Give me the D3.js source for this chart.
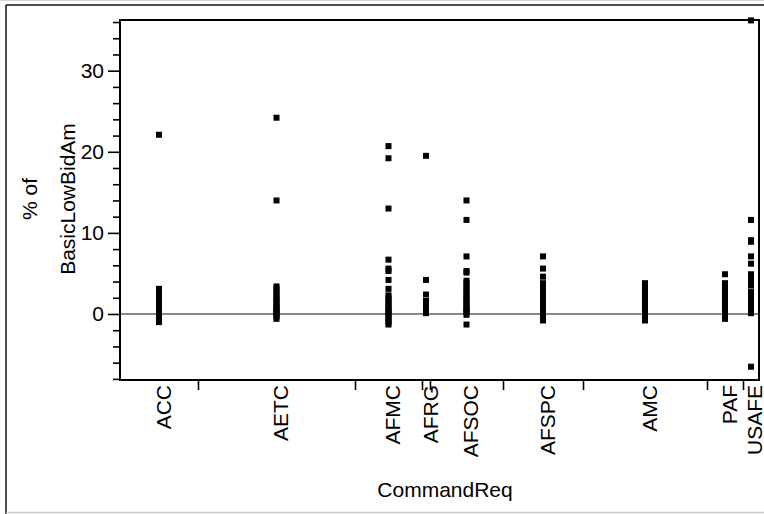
<!DOCTYPE html>
<html>
<head>
<meta charset="utf-8">
<script src="https://cdn.jsdelivr.net/npm/d3@7"></script>
<style>
  html, body { margin: 0; padding: 0; background: #fff; }
  svg { display: block; }
  text { font-family: "Liberation Sans", Arial, sans-serif; fill: #000; }
</style>
</head>
<body>
<svg id="chart" width="764" height="514"></svg>
<script>
// ---------------- data ----------------
const categories = ["ACC", "AETC", "AFMC", "AFRG", "AFSOC", "AFSPC", "AMC", "PAF", "USAFE"];
const categoryCounts = [78, 157, 67, 8, 73, 80, 124, 36, 16];

const accValues   = [22.1, 3.1, 2.8, 2.5, 2.2, 1.9, 1.6, 1.3, 1.0, 0.8, 0.6, 0.4, 0.2, 0.0, -0.2, -0.4, -0.6, -0.8, -1.0];
const aetcValues  = [24.2, 14.0, 3.4, 3.1, 2.7, 2.4, 2.0, 1.8, 1.5, 1.2, 0.9, 0.7, 0.5, 0.3, 0.1, -0.1, -0.3, -0.6];
const afmcValues  = [20.7, 19.2, 13.0, 6.7, 5.6, 5.3, 4.2, 3.1, 2.3, 2.0, 1.7, 1.4, 1.1, 0.8, 0.5, 0.3, 0.1, -0.2, -0.5, -0.8, -1.0, -1.3];
const afrgValues  = [19.5, 4.2, 2.4, 1.6, 1.3, 0.8, 0.5, 0.1];
const afsocValues = [14.0, 11.6, 7.1, 5.3, 5.1, 4.1, 3.8, 3.4, 3.1, 2.7, 2.4, 2.1, 1.8, 1.5, 1.2, 0.9, 0.6, 0.4, 0.2, -0.1, -1.3];
const afspcValues = [7.1, 5.6, 4.6, 3.8, 3.5, 3.1, 2.8, 2.4, 2.1, 1.8, 1.5, 1.2, 0.9, 0.6, 0.3, 0.1, -0.2, -0.5, -0.8];
const amcValues   = [3.8, 3.6, 3.3, 2.9, 2.6, 2.2, 1.9, 1.6, 1.3, 1.0, 0.7, 0.4, 0.2, 0.0, -0.3, -0.5, -0.8];
const pafValues   = [4.9, 3.8, 3.5, 3.1, 2.7, 2.4, 2.0, 1.7, 1.4, 1.1, 0.8, 0.5, 0.3, 0.0, -0.3, -0.6];
const usafeValues = [36.2, 11.6, 9.1, 8.9, 7.1, 6.2, 4.9, 4.2, 3.5, 2.7, 2.3, 2.0, 1.6, 1.3, 0.9, 0.6, 0.3, 0.1, -6.5];

const yMajorTicks = [0, 10, 20, 30];
const yMinorTicks = [-8, -6, -4, -2, 2, 4, 6, 8, 12, 14, 16, 18, 22, 24, 26, 28, 32, 34, 36];
const yTitleLines = ["% of", "BasicLowBidAm"];
const xTitle = "CommandReq";

const seriesByCategory = [accValues, aetcValues, afmcValues, afrgValues, afsocValues, afspcValues, amcValues, pafValues, usafeValues];

// ---------------- layout ----------------
const plotLeft = 120, plotRight = 759, plotTop = 20, plotBottom = 380;
const svg = d3.select("#chart");

// outer window frame
svg.append("line").attr("x1", 0).attr("x2", 764).attr("y1", 0.5).attr("y2", 0.5).attr("stroke", "#d8d4c8").attr("stroke-width", 1);
svg.append("line").attr("x1", 6).attr("x2", 764).attr("y1", 5).attr("y2", 5).attr("stroke", "#111").attr("stroke-width", 1.5);
svg.append("line").attr("x1", 6).attr("x2", 6).attr("y1", 5).attr("y2", 514).attr("stroke", "#111").attr("stroke-width", 1.5);
svg.append("line").attr("x1", 6).attr("x2", 764).attr("y1", 512.5).attr("y2", 512.5).attr("stroke", "#c8c8c8").attr("stroke-width", 1.5);

// scales
const total = d3.sum(categoryCounts);
const xPos = d3.scaleLinear().domain([0, total]).range([plotLeft, plotRight]);
const cum = [0];
categoryCounts.forEach((c, i) => cum.push(cum[i] + c));
const boundaries = cum.slice(1, -1);
const centers = categories.map((c, i) => xPos(cum[i] + categoryCounts[i] / 2));

const y = d3.scaleLinear().domain([-8.14, 36.25]).range([plotBottom, plotTop]);

// zero reference line
svg.append("line")
  .attr("x1", plotLeft).attr("x2", plotRight)
  .attr("y1", y(0)).attr("y2", y(0))
  .attr("stroke", "#888").attr("stroke-width", 2);

// points
const pts = [];
seriesByCategory.forEach((vals, i) => vals.forEach(v => pts.push({ cat: i, v })));
const s = 6;
svg.append("g").selectAll("rect").data(pts).join("rect")
  .attr("x", d => centers[d.cat] - s / 2)
  .attr("y", d => y(d.v) - s / 2)
  .attr("width", s).attr("height", s)
  .attr("fill", "#000");

// y axis major
const yAxis = svg.append("g").attr("transform", `translate(${plotLeft},0)`)
  .call(d3.axisLeft(y).tickValues(yMajorTicks).tickSize(12).tickPadding(4).tickFormat(d3.format("d")));
yAxis.select(".domain").remove();
yAxis.attr("font-family", null).attr("font-size", null);
yAxis.selectAll(".tick line").attr("stroke", "#000").attr("stroke-width", 1.6);
yAxis.selectAll(".tick text").style("font-size", "21px");

// y axis minor
const yMinor = svg.append("g").attr("transform", `translate(${plotLeft},0)`)
  .call(d3.axisLeft(y).tickValues(yMinorTicks).tickSize(7).tickFormat(""));
yMinor.select(".domain").remove();
yMinor.selectAll(".tick line").attr("stroke", "#000").attr("stroke-width", 1.6);

// x axis boundary ticks
const xAxis = svg.append("g").attr("transform", `translate(0,${plotBottom})`)
  .call(d3.axisBottom(xPos).tickValues(boundaries).tickSize(10).tickFormat(""));
xAxis.select(".domain").remove();
xAxis.selectAll(".tick line").attr("stroke", "#000").attr("stroke-width", 1.6);

// category labels
svg.append("g").selectAll("text").data(categories).join("text")
  .attr("transform", (d, i) => `translate(${Math.min(centers[i] + 11.5, 761.5)},385) rotate(-90)`)
  .attr("text-anchor", "end")
  .style("font-size", "21px")
  .text(d => d);

// plot frame
svg.append("rect")
  .attr("x", plotLeft).attr("y", plotTop)
  .attr("width", plotRight - plotLeft).attr("height", plotBottom - plotTop)
  .attr("fill", "none").attr("stroke", "#000").attr("stroke-width", 2);

// titles
const yTitleX = [37, 75];
yTitleLines.forEach((t, i) => {
  svg.append("text")
    .attr("transform", `translate(${yTitleX[i]},199) rotate(-90)`)
    .attr("text-anchor", "middle")
    .style("font-size", "21px")
    .text(t);
});
svg.append("text")
  .attr("x", 445).attr("y", 497)
  .attr("text-anchor", "middle")
  .style("font-size", "21px")
  .text(xTitle);
</script>
</body>
</html>
